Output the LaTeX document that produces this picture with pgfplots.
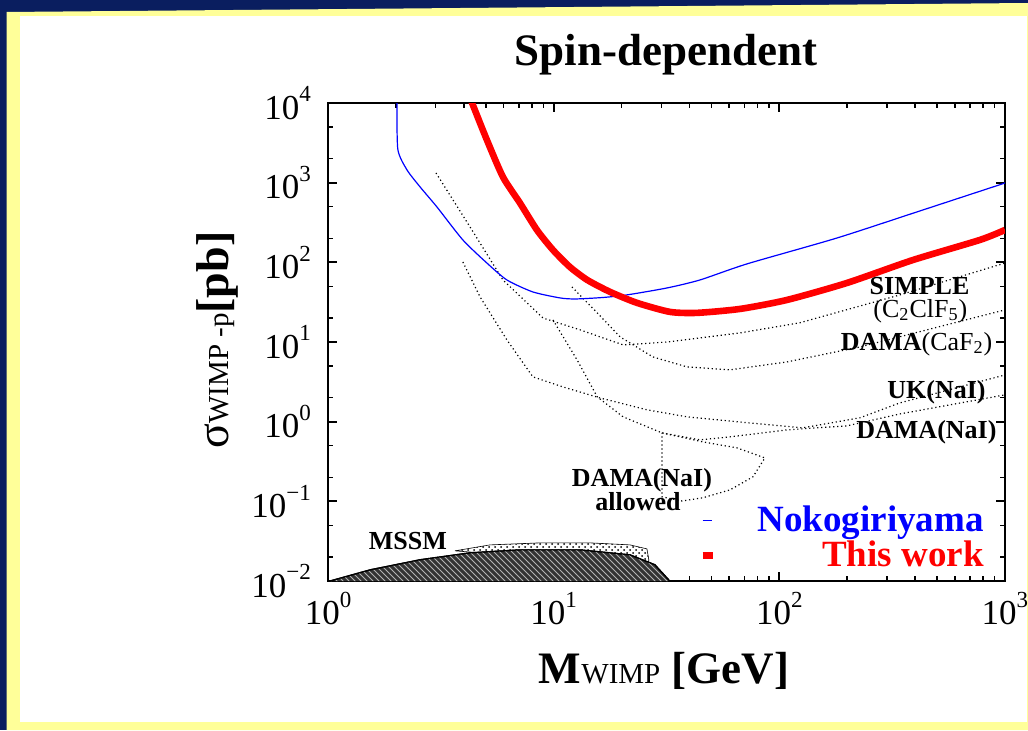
\documentclass[border=0pt]{standalone}
\usepackage{pgfplots}
\pgfplotsset{compat=1.18}
\usetikzlibrary{patterns}
\usepackage{fontspec}
\setmainfont{Liberation Serif}

\definecolor{slideblue}{RGB}{10,30,95}
\definecolor{slideyellow}{RGB}{255,255,153}

% tick label 10^n set in the text font
\newcommand{\E}[1]{10\raisebox{0.5em}{\fontsize{11.5}{12}\selectfont #1}}

\begin{document}
\begin{tikzpicture}[x=0.5pt,y=0.5pt]
\clip (0,0) rectangle (1028,730);
% slide frame
\fill[slideblue] (0,0) rectangle (1028,730);
\fill[slideyellow] (6.5,0) -- (6.5,718) -- (1028,727) -- (1028,0) -- cycle;
\fill[white] (20,8) rectangle (1027,714);

\begin{axis}[
  at={(164pt,74.5pt)}, anchor=south west,
  width=338.5pt, height=239pt, scale only axis,
  xmode=log, ymode=log,
  xmin=1, xmax=1000, ymin=0.01, ymax=10000,
  xtick={1,10,100,1000},
  xticklabels={\E{0},\E{1},\E{2},\E{3}},
  minor xtick={2,3,4,5,6,7,8,9,20,30,40,50,60,70,80,90,200,300,400,500,600,700,800,900},
  ytick={0.01,0.1,1,10,100,1000,10000},
  yticklabels={\E{−2},\E{−1},\E{0},\E{1},\E{2},\E{3},\E{4}},
  minor ytick={0.02,0.05,0.2,0.5,2,5,20,50,200,500,2000,5000},
  tick label style={font=\fontsize{17.5}{20}\selectfont},
  xticklabel style={yshift=-2pt},
  yticklabel style={xshift=-5pt},
  axis line style={line width=1.2pt},
  major tick style={line width=1pt, black},
  minor tick style={line width=0.8pt, black},
  major tick length=4.5pt, minor tick length=2.5pt,
  tick align=inside,
  legend style={draw=none, fill=none, at={(0.975,0.090)}, anchor=east,
    font=\bfseries\fontsize{18.5}{21}\selectfont, inner sep=0pt, row sep=-1pt},
  legend cell align=right,
]

% MSSM region
\addplot[pattern=crosshatch dots, draw=black, line width=0.3pt, forget plot] coordinates {
 (3.65,0.0239) (5.22,0.0284) (8.69,0.0301) (14.5,0.0301) (21.8,0.0284)
 (25.9,0.0253) (26.4,0.0185) (26.2,0.0147) (16.0,0.0160) (7.09,0.0207) (3.65,0.0239)};
\addplot[fill=black!80, draw=black, line width=0.6pt, forget plot,
  postaction={pattern=north west lines, pattern color=white!70!black}] coordinates {
 (1.02,0.01) (1.535,0.0138) (2.56,0.0185) (4.26,0.0226) (7.09,0.0246)
 (13.1,0.0246) (21.8,0.0213) (28.1,0.0160) (32.7,0.01)};

% dotted exclusion limits
\pgfplotsset{limit/.style={black, line width=0.6pt, dash pattern=on 0.6pt off 1.4pt, forget plot}}
% SIMPLE (C2ClF5)
\addplot[limit] coordinates {
 (3.01,1324) (4.26,278) (5.96,60.1) (8.97,20.0) (13.1,14.2) (20.3,9.2)
 (31.8,10.0) (66.9,13.0) (123,17.4) (342,39.0) (1000,98)};
% DAMA (CaF2)
\addplot[limit] coordinates {
 (12.05,49.1) (15.6,23.2) (19.7,11.6) (27.5,6.50) (39.0,4.87) (60.4,4.47)
 (108,5.62) (228,8.68) (1000,25.3)};
% UK (NaI)
\addplot[limit] coordinates {
 (3.96,101) (4.72,36.8) (6.21,10.6) (8.09,3.65) (11.0,2.73) (16.0,1.99)
 (25.9,1.41) (39.0,1.15) (66.9,0.99) (127,0.836) (228,1.12) (342,1.72) (1000,3.86)};
% DAMA (NaI)
\addplot[limit] coordinates {
 (9.93,18.9) (12.7,5.96) (15.6,2.05) (20.3,1.15) (30.2,0.723) (44.5,0.591)
 (60.4,0.644) (108,0.789) (199,0.885) (342,1.25) (1000,2.17)};
% DAMA (NaI) allowed region
\addplot[limit] coordinates {
 (30.2,0.723) (45.9,0.557) (64.9,0.469) (86.3,0.351) (76.4,0.203) (60.4,0.139)
 (45.9,0.111) (37.0,0.101) (30.2,0.114) (30.2,0.723)};

% Nokogiriyama
\addplot[blue, line width=0.6pt, smooth, tension=0.4,
  legend image code/.code={\draw[blue, line width=0.6pt] (0pt,0pt) -- (4.5pt,0pt);
    \path[draw=none, fill=none] (0pt,0pt) -- (25.5pt,0pt);}]
 coordinates {
 (2.02,12000) (2.02,10000) (2.04,2600) (2.24,1443) (2.56,883) (3.04,495) (3.96,191)
 (5.06,98) (6.21,60) (8.09,42.5) (10.7,35.7) (12.5,34.7) (16.5,36.2) (21.1,39)
 (31.8,47.7) (44.5,60.1) (71.8,95.5) (180,202) (420,442) (1000,990)};
\addlegendentry{\textcolor{blue}{Nokogiriyama}}
% This work
\addplot[red, line width=3.3pt, smooth, tension=0.4,
  legend image code/.code={\draw[red, line width=3.5pt] (0pt,0pt) -- (5pt,0pt);
    \path[draw=none, fill=none] (0pt,0pt) -- (25.5pt,0pt);}]
 coordinates {
 (4.21,12600) (4.35,10000) (5.06,3434) (5.96,1180) (7.09,556) (8.43,255) (9.93,143)
 (11.8,87.5) (14.1,60) (17.8,42.5) (23.4,31) (32.7,23.9) (43,23.2) (66.9,26)
 (108,33.7) (199,55) (391,107) (774,191) (1000,255)};
\addlegendentry{\textcolor{red}{This work}}

% curve labels
\tikzset{lab/.style={inner sep=0pt, font=\fontsize{13}{15}\selectfont}}
\node[lab, anchor=base east, font=\bfseries\fontsize{13}{15}\selectfont] at (rel axis cs:0.948,0.6004) {SIMPLE};
\node[lab, anchor=base east] at (rel axis cs:0.945,0.552) {(C\textsubscript{2}ClF\textsubscript{5})};
\node[lab, anchor=base east] at (rel axis cs:0.982,0.483) {\textbf{DAMA}(CaF\textsubscript{2})};
\node[lab, anchor=base east, font=\bfseries\fontsize{13}{15}\selectfont] at (rel axis cs:0.972,0.381) {UK(NaI)};
\node[lab, anchor=base east, font=\bfseries\fontsize{13}{15}\selectfont] at (rel axis cs:0.988,0.299) {DAMA(NaI)};
\node[lab, anchor=base, font=\bfseries\fontsize{13}{15}\selectfont] at (rel axis cs:0.4638,0.1967) {DAMA(NaI)};
\node[lab, anchor=base, font=\bfseries\fontsize{13}{15}\selectfont] at (rel axis cs:0.458,0.1485) {allowed};
\node[lab, anchor=base, font=\bfseries\fontsize{13}{15}\selectfont] at (rel axis cs:0.118,0.0649) {MSSM};
\end{axis}

% title and axis labels
\node[anchor=base, font=\bfseries\fontsize{22.5}{26}\selectfont] at (666,664) {Spin-dependent};
\node[anchor=base, font=\fontsize{22.5}{27}\selectfont] at (664,47)
  {\textbf{M}{\fontsize{14.5}{16}\selectfont WIMP} \textbf{[GeV]}};
\node[rotate=90, anchor=center, font=\fontsize{23}{27}\selectfont] at (217,390)
  {σ{\fontsize{14.5}{16}\selectfont WIMP -p}\textbf{[pb]}};
\end{tikzpicture}
\end{document}
